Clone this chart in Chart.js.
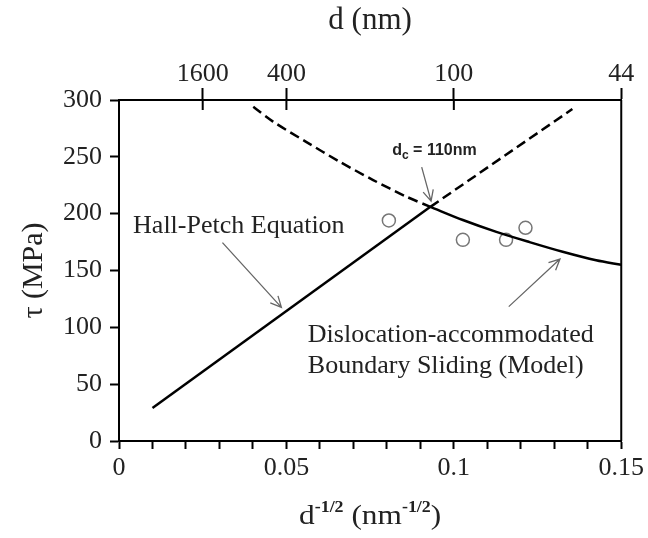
<!DOCTYPE html>
<html>
<head>
<meta charset="utf-8">
<script src="https://cdn.jsdelivr.net/npm/chart.js@4.4.0/dist/chart.umd.min.js"></script>
<style>
  html, body { margin: 0; padding: 0; background: #fff; }
  #wrap { width: 648px; height: 538px; }
</style>
</head>
<body>
<div id="wrap"><canvas id="tauChart" width="648" height="538"></canvas></div>
<script>
// Hall-Petch line (x = d^-1/2 in nm^-1/2, y = tau in MPa)
const hallPetchSolidX = [0.010, 0.093];
const hallPetchSolidY = [29, 206];
const hallPetchDashX = [0.093, 0.1354];
const hallPetchDashY = [206, 292];

// dislocation-accommodated boundary sliding model
const modelDashX = [0.0401, 0.046, 0.056, 0.0659, 0.0759, 0.0858, 0.093];
const modelDashY = [294, 281, 263, 245.7, 229.6, 215, 206];
const modelSolidX = [0.093, 0.1027, 0.1127, 0.1226, 0.1325, 0.1425, 0.150];
const modelSolidY = [206, 194.4, 184, 175, 166.5, 159, 155];

// measured points
const expX = [0.0806, 0.1027, 0.1156, 0.1214];
const expY = [194, 177, 177, 187.6];

// top axis: grain size d (nm) at d^-1/2 positions
const topTickValues = [0.025, 0.05, 0.1, 0.15];
const topTickLabels = ['1600', '400', '100', '44'];

const serif = "'Liberation Serif', 'Times New Roman', serif";
const ink = '#222';

function toPoints(xs, ys) {
  return xs.map((x, i) => ({ x: x, y: ys[i] }));
}

// draw an open-V arrow between two data points
function drawArrow(ctx, xs, ys, from, to) {
  const x1 = xs.getPixelForValue(from[0]), y1 = ys.getPixelForValue(from[1]);
  const x2 = xs.getPixelForValue(to[0]), y2 = ys.getPixelForValue(to[1]);
  const ang = Math.atan2(y2 - y1, x2 - x1);
  const len = 12;
  ctx.beginPath();
  ctx.moveTo(x1, y1);
  ctx.lineTo(x2, y2);
  ctx.moveTo(x2 - len * Math.cos(ang - 0.45), y2 - len * Math.sin(ang - 0.45));
  ctx.lineTo(x2, y2);
  ctx.lineTo(x2 - len * Math.cos(ang + 0.45), y2 - len * Math.sin(ang + 0.45));
  ctx.stroke();
}

const annotations = {
  id: 'annotations',
  afterDatasetsDraw(chart) {
    const ctx = chart.ctx;
    const xs = chart.scales.x, ys = chart.scales.y, top = chart.scales.x2;
    const area = chart.chartArea;
    ctx.save();

    // right frame line and the inner part of the top ticks
    ctx.strokeStyle = '#000';
    ctx.lineWidth = 2;
    ctx.beginPath();
    ctx.moveTo(area.right, area.top);
    ctx.lineTo(area.right, area.bottom);
    topTickValues.forEach(v => {
      const px = top.getPixelForValue(v);
      ctx.moveTo(px, area.top);
      ctx.lineTo(px, area.top + 10);
    });
    ctx.stroke();

    ctx.fillStyle = ink;
    ctx.textBaseline = 'alphabetic';
    ctx.textAlign = 'left';
    ctx.font = '26px ' + serif;
    ctx.fillText('Hall-Petch Equation', xs.getPixelForValue(0.0042), ys.getPixelForValue(183));
    ctx.fillText('Dislocation-accommodated', xs.getPixelForValue(0.0564), ys.getPixelForValue(87.3));
    ctx.fillText('Boundary Sliding (Model)', xs.getPixelForValue(0.0564), ys.getPixelForValue(59.8));

    // d_c label
    const dcX = xs.getPixelForValue(0.0816);
    const dcY = ys.getPixelForValue(252);
    ctx.font = "bold 16px 'Liberation Sans', Arial, sans-serif";
    ctx.fillText('d', dcX, dcY);
    let w = ctx.measureText('d').width;
    ctx.font = "bold 12px 'Liberation Sans', Arial, sans-serif";
    ctx.fillText('c', dcX + w, dcY + 4);
    w += ctx.measureText('c').width;
    ctx.font = "bold 16px 'Liberation Sans', Arial, sans-serif";
    ctx.fillText(' = 110nm', dcX + w, dcY);

    ctx.strokeStyle = '#666';
    ctx.lineWidth = 1.3;
    drawArrow(ctx, xs, ys, [0.0309, 174.5], [0.0485, 117.6]);
    drawArrow(ctx, xs, ys, [0.1164, 118.2], [0.1317, 160.1]);
    drawArrow(ctx, xs, ys, [0.0904, 241], [0.0932, 211]);

    // bottom axis title with superscripts, slightly widened like the original
    const parts = [
      ['d', false], ['-1/2', true], [' (nm', false], ['-1/2', true], [')', false]
    ];
    const big = '28px ' + serif, small = 'bold 16px ' + serif;
    let total = 0;
    parts.forEach(p => { ctx.font = p[1] ? small : big; total += ctx.measureText(p[0]).width; });
    const sx = 1.12;
    const cx = (area.left + area.right) / 2;
    ctx.translate(cx - total * sx / 2, 524);
    ctx.scale(sx, 1);
    let tx = 0;
    parts.forEach(p => {
      ctx.font = p[1] ? small : big;
      ctx.fillText(p[0], tx, p[1] ? -12 : 0);
      tx += ctx.measureText(p[0]).width;
    });
    ctx.restore();
  }
};

const lineStyle = { showLine: true, pointRadius: 0, borderColor: '#000', borderWidth: 2.5, fill: false };

new Chart(document.getElementById('tauChart'), {
  type: 'scatter',
  data: {
    datasets: [
      Object.assign({ label: 'Hall-Petch', data: toPoints(hallPetchSolidX, hallPetchSolidY) }, lineStyle),
      Object.assign({ label: 'Hall-Petch (extrapolated)', data: toPoints(hallPetchDashX, hallPetchDashY), borderDash: [10, 5] }, lineStyle),
      Object.assign({ label: 'Model (extrapolated)', data: toPoints(modelDashX, modelDashY), borderDash: [10, 5], tension: 0.3 }, lineStyle),
      Object.assign({ label: 'Model', data: toPoints(modelSolidX, modelSolidY), tension: 0.3 }, lineStyle),
      {
        label: 'Experiment',
        data: toPoints(expX, expY),
        pointStyle: 'circle',
        pointRadius: 6.5,
        borderColor: '#777',
        borderWidth: 1.5,
        backgroundColor: 'rgba(0,0,0,0)'
      }
    ]
  },
  options: {
    responsive: false,
    animation: false,
    layout: { padding: { left: 0, right: 26, top: 0, bottom: 0 } },
    plugins: { legend: { display: false }, tooltip: { enabled: false } },
    scales: {
      x: {
        type: 'linear',
        position: 'bottom',
        min: 0,
        max: 0.15,
        afterFit: (scale) => { scale.height = 97; },
        ticks: {
          stepSize: 0.01,
          autoSkip: false,
          maxRotation: 0,
          padding: 4,
          color: ink,
          font: { family: serif, size: 26 },
          callback: (v) => {
            const k = Math.round(v * 100);
            if (k % 5 !== 0) return '';
            return k === 0 ? '0' : String(k / 100);
          }
        },
        grid: { drawOnChartArea: false, tickLength: 8, tickColor: '#000', tickWidth: 2 },
        border: { color: '#000', width: 2 }
      },
      x2: {
        type: 'linear',
        position: 'top',
        min: 0,
        max: 0.15,
        afterFit: (scale) => { scale.height = 100; },
        afterBuildTicks: (scale) => { scale.ticks = topTickValues.map(v => ({ value: v })); },
        ticks: {
          autoSkip: false,
          maxRotation: 0,
          padding: -2,
          color: ink,
          font: { family: serif, size: 26 },
          callback: (v) => {
            const i = topTickValues.findIndex(t => Math.abs(t - v) < 1e-6);
            return i >= 0 ? topTickLabels[i] : '';
          }
        },
        grid: { drawOnChartArea: false, tickLength: 12, tickColor: '#000', tickWidth: 2 },
        border: { color: '#000', width: 2 },
        title: { display: true, text: 'd (nm)', color: ink, font: { family: serif, size: 31 }, padding: { top: 2, bottom: 0 } }
      },
      y: {
        min: 0,
        max: 300,
        afterFit: (scale) => { scale.width = 119; },
        ticks: { stepSize: 50, padding: 8, color: ink, font: { family: serif, size: 26 } },
        grid: { drawOnChartArea: false, tickLength: 9, tickColor: '#000', tickWidth: 2 },
        border: { color: '#000', width: 2 },
        title: { display: true, text: 'τ (MPa)', color: ink, font: { family: serif, size: 30 }, padding: { top: 16, bottom: 0 } }
      }
    }
  },
  plugins: [annotations]
});
</script>
</body>
</html>
